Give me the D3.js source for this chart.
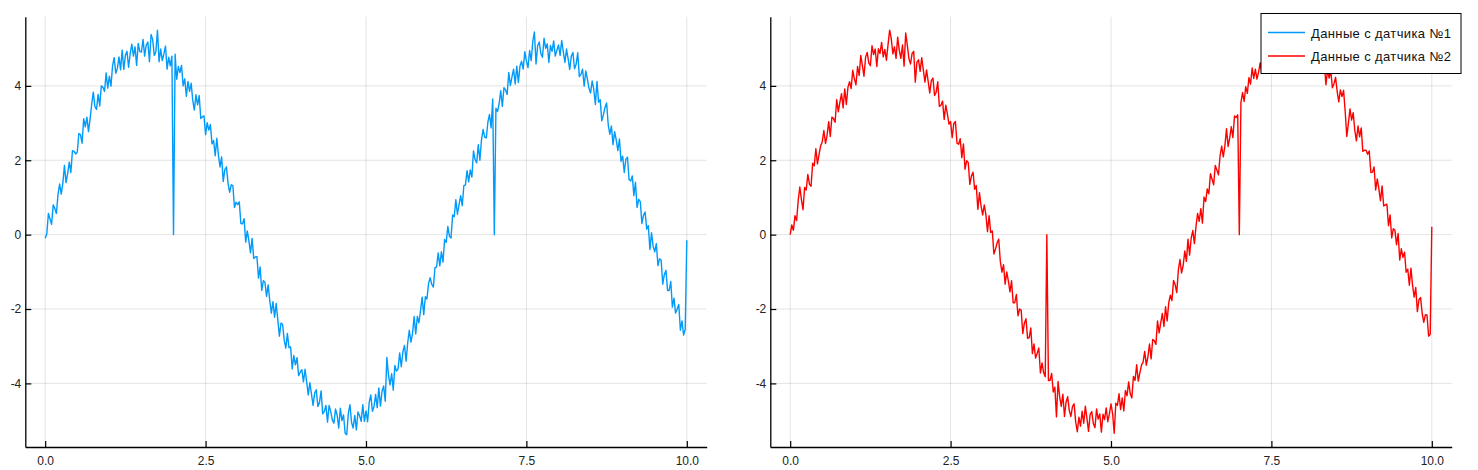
<!DOCTYPE html>
<html>
<head>
<meta charset="utf-8">
<script src="https://cdn.jsdelivr.net/npm/d3@7"></script>
<style>
  html, body { margin: 0; padding: 0; background: #fff; }
  svg { display: block; font-family: "Liberation Sans", Arial, Helvetica, sans-serif; }
</style>
</head>
<body>
<svg id="chart" width="1478" height="470"></svg>
<script>
// ---- data ----
const xStart = 0;
const xStep = 0.025;
const xTicks = [0, 2.5, 5, 7.5, 10];
const xTickLabels = ["0.0", "2.5", "5.0", "7.5", "10.0"];
const yTicks = [-4, -2, 0, 2, 4];
const yTickLabels = ["-4", "-2", "0", "2", "4"];
const seriesNames = ["Данные с датчика №1", "Данные с датчика №2"];
const seriesColors = ["#009AFA", "#FF0000"];

const sensor1 = [
  -0.10, 0.02, 0.57, 0.42, 0.28, 0.80, 0.70, 0.57, 1.09, 1.36, 1.09, 1.38, 1.86, 1.40, 1.64, 1.95, 1.67, 2.26, 2.24, 2.17,
  2.22, 2.72, 2.69, 2.46, 3.12, 2.90, 3.16, 2.77, 3.12, 3.51, 3.83, 3.44, 3.37, 3.77, 3.46, 4.00, 3.96, 3.85, 4.35, 3.94,
  4.26, 3.99, 4.54, 4.76, 4.34, 4.47, 4.78, 4.43, 4.96, 4.44, 4.82, 4.93, 4.50, 4.87, 5.12, 4.80, 5.05, 4.55, 5.14, 4.92,
  4.91, 5.25, 4.80, 5.10, 5.18, 4.65, 5.38, 5.25, 4.82, 4.92, 5.50, 4.65, 4.99, 4.68, 4.86, 5.07, 4.45, 4.77, 4.54, 4.80,
  0.00, 4.85, 4.18, 4.52, 4.36, 4.55, 4.00, 4.19, 3.72, 4.12, 3.85, 4.07, 3.61, 3.35, 3.76, 3.49, 3.74, 3.12, 3.17, 3.19,
  2.69, 3.01, 2.81, 2.96, 2.44, 2.53, 2.12, 2.59, 2.14, 1.82, 2.09, 1.43, 1.75, 1.82, 1.38, 1.14, 1.34, 1.32, 0.73, 0.87,
  0.81, 0.88, 0.30, 0.29, 0.43, -0.20, 0.10, -0.17, -0.49, -0.10, -0.64, -0.60, -0.59, -1.17, -0.87, -1.50, -1.24, -1.28, -1.66, -1.35,
  -1.77, -2.11, -1.80, -2.22, -1.85, -2.28, -2.73, -2.38, -2.41, -2.83, -3.05, -2.66, -3.04, -3.02, -3.61, -3.25, -3.50, -3.31, -3.79, -3.70,
  -3.63, -3.96, -3.62, -3.96, -4.31, -3.98, -4.28, -4.59, -4.26, -4.17, -4.62, -4.51, -4.20, -4.82, -4.75, -4.59, -5.04, -4.59, -4.76, -4.98,
  -5.07, -4.69, -4.85, -5.20, -4.67, -5.00, -4.85, -5.34, -5.38, -4.80, -4.57, -5.05, -5.20, -4.86, -5.25, -4.77, -4.87, -5.02, -4.57, -5.02,
  -4.74, -5.03, -4.51, -4.31, -4.75, -4.62, -4.30, -4.65, -4.12, -4.61, -4.21, -4.07, -4.48, -3.30, -3.77, -4.04, -3.74, -4.18, -3.52, -3.67,
  -3.61, -3.18, -3.55, -3.15, -2.98, -3.40, -2.91, -2.57, -2.89, -2.66, -2.20, -2.67, -2.20, -2.37, -2.04, -1.68, -2.15, -1.67, -1.73, -1.31,
  -1.16, -1.34, -1.41, -0.89, -0.87, -0.49, -0.84, -0.46, -0.74, -0.13, -0.21, 0.22, -0.04, -0.09, 0.53, 0.48, 0.94, 0.55, 0.81, 1.05,
  0.78, 1.32, 1.34, 1.72, 1.42, 1.74, 1.55, 2.25, 2.02, 1.93, 2.42, 2.00, 2.55, 2.83, 2.62, 2.60, 3.03, 3.23, 2.87, 3.65,
  0.00, 3.40, 3.31, 3.52, 3.87, 3.45, 3.95, 3.89, 3.77, 4.36, 4.01, 4.24, 4.45, 4.05, 4.53, 4.09, 4.53, 4.66, 4.45, 4.92,
  4.67, 4.49, 4.95, 4.68, 5.20, 5.45, 4.59, 5.08, 5.18, 4.87, 4.77, 5.28, 5.01, 5.13, 4.63, 5.09, 4.93, 5.21, 4.80, 4.96,
  5.10, 4.82, 5.22, 4.92, 4.63, 4.99, 4.73, 4.44, 4.80, 4.90, 4.46, 4.58, 4.89, 4.25, 4.31, 4.45, 3.99, 4.40, 4.19, 3.94,
  3.81, 4.13, 3.91, 3.50, 4.12, 3.56, 3.63, 3.06, 3.22, 3.42, 3.54, 2.96, 2.70, 2.92, 2.42, 2.77, 2.55, 2.26, 2.57, 1.97,
  2.11, 1.67, 2.03, 2.08, 1.48, 1.44, 1.58, 1.05, 1.41, 0.73, 0.95, 0.89, 0.30, 0.52, 0.61, 0.15, 0.24, -0.40, 0.05, -0.31,
  -0.46, -0.24, -0.83, -0.65, -0.69, -1.33, -1.07, -0.96, -1.50, -1.50, -1.26, -1.95, -1.71, -2.11, -2.00, -1.88, -2.57, -2.32, -2.70, -2.55,
  -0.15
];

const sensor2 = [
  0.00, 0.26, 0.12, 0.51, 0.38, 0.92, 1.28, 0.95, 0.67, 1.27, 1.20, 1.62, 1.36, 1.30, 1.92, 1.85, 2.31, 1.90, 2.16, 2.39,
  2.50, 2.80, 2.45, 2.67, 3.04, 2.64, 3.16, 3.12, 3.02, 3.63, 3.31, 3.56, 3.79, 3.41, 3.92, 3.50, 3.96, 4.11, 3.93, 4.42,
  4.19, 4.03, 4.52, 4.28, 4.82, 4.55, 4.26, 4.77, 4.90, 4.62, 4.54, 5.08, 4.84, 4.99, 4.52, 5.00, 4.87, 5.17, 4.78, 4.98,
  4.69, 5.11, 5.50, 5.28, 4.86, 5.05, 4.74, 5.31, 4.96, 4.74, 5.10, 4.53, 5.42, 5.10, 4.74, 4.59, 4.87, 4.93, 4.10, 4.64,
  4.70, 4.39, 4.76, 4.43, 4.10, 4.43, 4.13, 3.81, 4.14, 4.21, 3.74, 3.83, 4.11, 3.45, 3.48, 3.59, 3.10, 3.48, 3.25, 2.97,
  3.04, 2.61, 2.99, 3.04, 2.46, 2.43, 2.58, 2.07, 2.44, 1.76, 1.99, 1.94, 1.35, 1.58, 1.68, 1.22, 1.32, 0.68, 1.13, 0.77,
  0.53, 0.80, 0.54, 0.08, 0.51, 0.06, 0.10, -0.52, -0.39, -0.22, -0.12, -0.72, -1.01, -0.81, -1.33, -1.00, -1.24, -1.54, -1.24, -1.83,
  -1.83, -1.61, -2.18, -2.00, -2.03, -2.66, -2.38, -2.26, -2.79, -2.77, -2.51, -3.20, -2.94, -3.32, -3.19, -3.05, -3.72, -3.45, -3.71, -3.82,
  0.00, -3.92, -3.92, -3.73, -4.23, -4.10, -4.90, -3.95, -4.36, -4.62, -4.29, -4.89, -4.50, -4.36, -4.73, -4.89, -4.62, -4.55, -5.04, -5.30,
  -4.91, -5.15, -4.75, -5.07, -4.61, -4.94, -5.29, -4.83, -4.76, -5.08, -5.19, -4.69, -4.96, -4.82, -5.31, -4.83, -4.97, -4.66, -5.03, -4.82,
  -4.55, -4.81, -5.34, -4.53, -4.59, -4.28, -4.70, -4.39, -4.74, -4.19, -4.33, -3.96, -4.28, -4.39, -3.81, -3.92, -3.50, -3.94, -3.72, -3.51,
  -3.43, -3.14, -3.51, -3.29, -2.94, -3.34, -2.82, -2.85, -2.95, -2.32, -2.64, -2.37, -2.12, -2.47, -1.94, -2.32, -1.83, -1.63, -1.77, -1.23,
  -1.35, -1.56, -0.95, -0.67, -1.03, -0.83, -0.44, -0.72, -0.12, -0.55, -0.09, 0.11, -0.24, 0.23, 0.57, 0.36, 0.70, 0.31, 1.01, 0.89,
  1.23, 1.10, 1.64, 1.49, 1.34, 1.86, 1.74, 1.61, 2.12, 2.38, 2.09, 2.38, 2.85, 2.37, 2.60, 2.90, 2.61, 3.19, 3.15, 3.22,
  0.00, 3.55, 3.82, 3.58, 3.98, 3.80, 4.22, 4.05, 4.48, 4.20, 4.45, 4.18, 4.37, 4.62, 4.35, 4.73, 4.48, 4.62, 4.49, 4.84,
  4.51, 4.95, 4.85, 4.55, 5.14, 4.85, 5.03, 4.57, 4.84, 5.15, 5.39, 4.92, 4.77, 5.09, 4.69, 5.15, 5.03, 4.85, 5.26, 4.76,
  4.93, 4.68, 5.08, 4.75, 5.21, 4.85, 4.48, 4.90, 4.94, 4.57, 4.41, 4.86, 4.53, 4.59, 4.03, 4.43, 4.21, 4.42, 3.95, 4.06,
  4.23, 3.85, 3.57, 3.89, 3.71, 3.88, 3.31, 2.64, 3.00, 3.38, 3.08, 3.28, 2.80, 2.52, 2.92, 2.63, 2.87, 2.24, 2.27, 2.27,
  2.16, 2.25, 1.67, 1.68, 1.82, 1.20, 1.50, 1.23, 0.91, 1.31, 0.77, 0.80, 0.82, 0.24, 0.53, -0.09, 0.16, 0.12, -0.27, 0.03,
  -0.68, -0.38, -0.61, -0.47, -1.01, -0.93, -1.36, -0.90, -1.36, -1.68, -1.42, -2.07, -1.75, -1.69, -2.12, -2.36, -2.15, -2.16, -2.73, -2.68,
  0.21
];

const seriesData = [sensor1, sensor2];

// ---- layout ----
const svg = d3.select("#chart");
const panels = [
  { left: 25.3, right: 706.7, top: 16.7, bottom: 447 },
  { left: 770.3, right: 1451.7, top: 16.7, bottom: 447 }
];
const xDomain = [-0.31, 10.31];
const yDomain = [-5.71, 5.86];

panels.forEach((p, i) => {
  const x = d3.scaleLinear().domain(xDomain).range([p.left, p.right]);
  const y = d3.scaleLinear().domain(yDomain).range([p.bottom, p.top]);
  const g = svg.append("g");

  // grid
  g.append("g").selectAll("line").data(xTicks).join("line")
    .attr("x1", d => x(d)).attr("x2", d => x(d))
    .attr("y1", p.top).attr("y2", p.bottom)
    .attr("stroke", "rgba(0,0,0,0.11)").attr("stroke-width", 1);
  g.append("g").selectAll("line").data(yTicks).join("line")
    .attr("y1", d => y(d)).attr("y2", d => y(d))
    .attr("x1", p.left).attr("x2", p.right)
    .attr("stroke", "rgba(0,0,0,0.11)").attr("stroke-width", 1);

  // series line
  const vals = seriesData[i];
  const line = d3.line()
    .x((d, k) => x(xStart + k * xStep))
    .y(d => y(d));
  g.append("path")
    .datum(vals)
    .attr("d", line)
    .attr("fill", "none")
    .attr("stroke", seriesColors[i])
    .attr("stroke-width", 1.4)
    .attr("stroke-linejoin", "round");

  // axes
  const xAxis = d3.axisBottom(x).tickValues(xTicks)
    .tickFormat((d, k) => xTickLabels[k]).tickSize(-6).tickSizeOuter(0).tickPadding(9);
  const yAxis = d3.axisLeft(y).tickValues(yTicks)
    .tickFormat((d, k) => yTickLabels[k]).tickSize(-6).tickSizeOuter(0).tickPadding(4);

  const gx = g.append("g").attr("transform", `translate(0,${p.bottom})`).call(xAxis);
  const gy = g.append("g").attr("transform", `translate(${p.left},0)`).call(yAxis);
  [gx, gy].forEach(a => {
    a.select(".domain").attr("stroke", "#000").attr("stroke-width", 1.3);
    a.selectAll(".tick line").attr("stroke", "#000").attr("stroke-width", 1.2);
    a.selectAll(".tick text").attr("fill", "#222")
      .style("font-size", "12px")
      .style("font-family", '"Liberation Sans", Arial, sans-serif');
  });
});

// ---- legend (on right panel) ----
const lg = svg.append("g");
lg.append("rect")
  .attr("x", 1261).attr("y", 13.5).attr("width", 200).attr("height", 60)
  .attr("fill", "#fff").attr("stroke", "#000").attr("stroke-width", 1);
seriesNames.forEach((name, i) => {
  const cy = 32.5 + i * 23.5;
  lg.append("line")
    .attr("x1", 1268).attr("x2", 1305).attr("y1", cy).attr("y2", cy)
    .attr("stroke", seriesColors[i]).attr("stroke-width", 1.4);
  lg.append("text")
    .attr("x", 1311).attr("y", cy + 5)
    .attr("fill", "#111")
    .attr("textLength", 140)
    .attr("lengthAdjust", "spacing")
    .style("font-size", "13px")
    .style("font-family", '"Liberation Sans", Arial, sans-serif')
    .text(name);
});
</script>
</body>
</html>
